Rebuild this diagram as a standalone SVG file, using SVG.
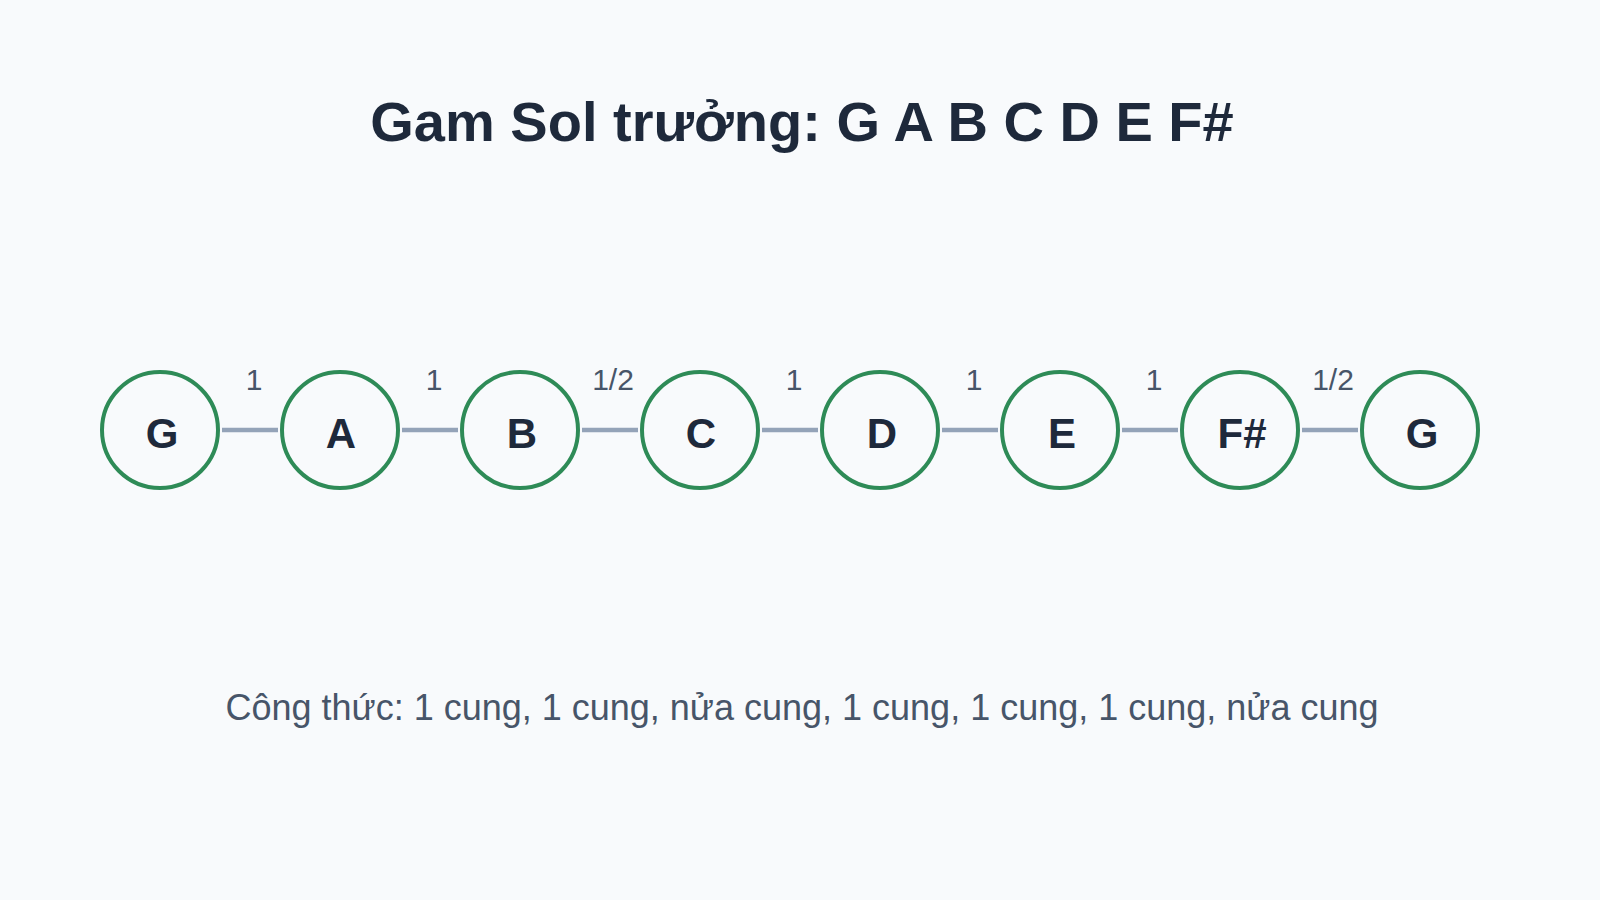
<svg xmlns="http://www.w3.org/2000/svg" width="1600" height="900" viewBox="0 0 1600 900">
  <style>
    .title { font-family: "Liberation Sans", Arial, sans-serif; font-weight: bold; font-size: 56px; fill: #1e293b; text-anchor: middle; }
    .node circle { fill: #f8fafc; stroke: #2e8b57; stroke-width: 4; }
    .node text { font-family: "Liberation Sans", Arial, sans-serif; font-weight: bold; font-size: 42px; fill: #1e293b; text-anchor: middle; }
    .edge line { stroke: #94a3b8; stroke-width: 4.5; }
    .edge text { font-family: "Liberation Sans", Arial, sans-serif; font-size: 30px; fill: #475569; text-anchor: middle; }
    .formula { font-family: "Liberation Sans", Arial, sans-serif; font-size: 36px; fill: #475569; text-anchor: middle; }
  </style>
  <rect x="0" y="0" width="1600" height="900" fill="#f8fafc"/>
  <text class="title" x="802" y="141">Gam Sol trưởng: G A B C D E F#</text>

  <g id="connectors" class="edge">
    <line x1="222" y1="430" x2="278" y2="430"/>
    <text x="254" y="390">1</text>
    <line x1="402" y1="430" x2="458" y2="430"/>
    <text x="434" y="390">1</text>
    <line x1="582" y1="430" x2="638" y2="430"/>
    <text x="613" y="390">1/2</text>
    <line x1="762" y1="430" x2="818" y2="430"/>
    <text x="794" y="390">1</text>
    <line x1="942" y1="430" x2="998" y2="430"/>
    <text x="974" y="390">1</text>
    <line x1="1122" y1="430" x2="1178" y2="430"/>
    <text x="1154" y="390">1</text>
    <line x1="1302" y1="430" x2="1358" y2="430"/>
    <text x="1333" y="390">1/2</text>
  </g>

  <g id="node-G1" class="node"><circle cx="160" cy="430" r="58"/><text x="162" y="448">G</text></g>
  <g id="node-A" class="node"><circle cx="340" cy="430" r="58"/><text x="341" y="448">A</text></g>
  <g id="node-B" class="node"><circle cx="520" cy="430" r="58"/><text x="522" y="448">B</text></g>
  <g id="node-C" class="node"><circle cx="700" cy="430" r="58"/><text x="701" y="448">C</text></g>
  <g id="node-D" class="node"><circle cx="880" cy="430" r="58"/><text x="882" y="448">D</text></g>
  <g id="node-E" class="node"><circle cx="1060" cy="430" r="58"/><text x="1062" y="448">E</text></g>
  <g id="node-Fs" class="node"><circle cx="1240" cy="430" r="58"/><text x="1242" y="448">F#</text></g>
  <g id="node-G2" class="node"><circle cx="1420" cy="430" r="58"/><text x="1422" y="448">G</text></g>

  <text class="formula" x="802" y="720">Công thức: 1 cung, 1 cung, nửa cung, 1 cung, 1 cung, 1 cung, nửa cung</text>
</svg>
